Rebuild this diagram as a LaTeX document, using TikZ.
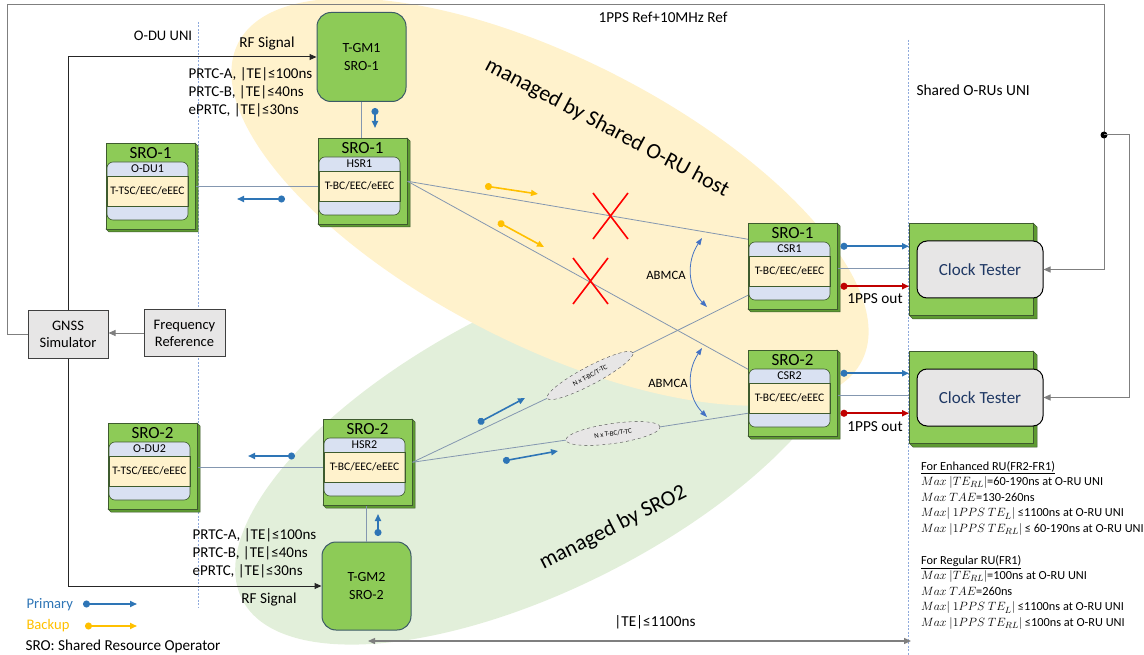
\documentclass[tikz,border=0pt]{standalone}
\usepackage{fontspec}
\setmainfont{Carlito}
\usepackage{xcolor}
\usepackage{tikz}
\usetikzlibrary{arrows.meta,shapes.geometric}

\definecolor{srogreen}{HTML}{8DCB57}
\definecolor{sroside}{HTML}{5E9A32}
\definecolor{sroline}{HTML}{3E5B2E}
\definecolor{gmline}{HTML}{3C5A66}
\definecolor{bandblue}{HTML}{D9E1F2}
\definecolor{bandyellow}{HTML}{FFF2CC}
\definecolor{yellowzone}{HTML}{FFF2CC}
\definecolor{greenzone}{HTML}{E2EFDA}
\definecolor{boxgray}{HTML}{E7E6E6}
\definecolor{primblue}{HTML}{2E75B6}
\definecolor{backorange}{HTML}{FFC000}
\definecolor{ppsred}{HTML}{C00000}
\definecolor{crossred}{HTML}{FF0000}
\definecolor{abmblue}{HTML}{4472C4}
\definecolor{linkgray}{HTML}{8497B0}
\definecolor{framegray}{HTML}{7F7F7F}
\definecolor{unidot}{HTML}{8FAADC}
\definecolor{testerblue}{HTML}{1F3864}

\newcommand{\fsz}[2]{\fontsize{#1}{#2}\selectfont}

% 3D box: name, top left x, top left y, title, band, role
\newcommand{\srobox}[6]{%
  \filldraw[fill=sroside, draw=sroline, line width=0.5pt] (#2+89,#3) -- (#2+92,#3+3) -- (#2+92,#3+89) -- (#2+3,#3+89) -- (#2,#3+86) -- cycle;
  \node[srofront, anchor=north west] (#1) at (#2,#3) {};
  \node[srotitle] (#1title) at (#2+44.5,#3+10) {#4};
  \fill[bandblue, rounded corners=6pt] (#2+1,#3+19) rectangle (#2+82,#3+77);
  \node[roleband] (#1role) at (#2+41.5,#3+48) {#6};
  \node[bandlabel] (#1band) at (#2+41.5,#3+26) {#5};
  \draw[draw=sroline, line width=0.6pt, rounded corners=6pt] (#2+1,#3+19) rectangle (#2+82,#3+77);
}

% clock tester: name, top left x, top left y
\newcommand{\testerbox}[3]{%
  \filldraw[fill=sroside, draw=sroline, line width=0.5pt] (#2+124,#3) -- (#2+128,#3+4) -- (#2+128,#3+96) -- (#2+4,#3+96) -- (#2,#3+92) -- cycle;
  \node[srofront, minimum width=124pt, minimum height=92pt, anchor=north west] (#1box) at (#2,#3) {};
  \node[tester] (#1) at (#2+71,#3+46.5) {Clock Tester};
}

\begin{document}
\begin{tikzpicture}[x=1pt, y=-1pt, font=\fsz{14.6}{17},
    srofront/.style={draw=sroline, line width=0.5pt, fill=srogreen, minimum width=89pt, minimum height=86pt, inner sep=0pt},
    srotitle/.style={font=\fsz{17}{20}, inner sep=0pt},
    bandlabel/.style={font=\fsz{12}{14}, inner sep=0pt},
    roleband/.style={draw=sroline, line width=0.6pt, fill=bandyellow, minimum width=81pt, minimum height=30pt, inner sep=0pt, font=\fsz{11.5}{14}},
    gmbox/.style={draw=gmline, line width=1pt, fill=srogreen, rounded corners=14pt, minimum width=89pt, minimum height=89pt, align=center, font=\fsz{14}{18}},
    graybox/.style={draw=black!75, line width=1pt, fill=boxgray, minimum width=80pt, minimum height=47pt, align=center, font=\fsz{14.5}{17}},
    tester/.style={draw=black, line width=1pt, fill=boxgray, rounded corners=10pt, minimum width=126pt, minimum height=57pt, font=\fsz{17}{20}, text=testerblue},
    tcell/.style={ellipse, draw=black!70, dashed, fill=boxgray, inner sep=0pt, font=\fsz{7}{8}},
    refline/.style={draw=framegray, line width=1pt},
    link/.style={draw=linkgray, line width=0.8pt},
    uni/.style={draw=unidot, line width=0.8pt, dash pattern=on 2pt off 1.5pt},
    primary/.style={draw=primblue, line width=1.6pt, {Circle[length=7pt]}-{Triangle[length=7pt,width=6pt]}},
    backup/.style={primary, draw=backorange},
    pps/.style={primary, draw=ppsred},
    nolink/.style={draw=crossred, line width=1.6pt},
    abm/.style={draw=abmblue, line width=0.8pt, {Triangle[length=7pt,width=5pt]}-{Triangle[length=7pt,width=5pt]}},
    toarrow/.style={-{Triangle[length=7pt,width=6pt]}}]

\useasboundingbox (0,0) rectangle (1144,655);

% managed zones
\fill[greenzone, rotate around={27:(545,445)}] (545,445) ellipse [x radius=340, y radius=142];
\fill[yellowzone, rotate around={-27:(550,202)}] (550,202) ellipse [x radius=350, y radius=143];
\node[rotate=-28, font=\fsz{22}{26}] (hostzone) at (607,128) {managed by Shared O-RU host};
\node[rotate=27, font=\fsz{22}{26}] (srozone) at (613,528) {managed by SRO2};

% UNI borders
\coordinate (duuniT) at (198,22);
\coordinate (duuniB) at (198,608);
\coordinate (ruuniT) at (908,40);
\coordinate (ruuniB) at (908,655);
\draw[uni] (duuniT) -- (duuniB);
\draw[uni] (ruuniT) -- (ruuniB);
\node (duuni) at (163,36) {O-DU UNI};
\node[anchor=west, font=\fsz{15.4}{18}] (ruuni) at (913,90) {Shared O-RUs UNI};

% sources
\node[graybox] (gnss) at (68,334.5) {GNSS\\Simulator};
\node[graybox, minimum width=81pt, minimum height=46pt] (freq) at (184.5,333) {Frequency\\Reference};
\node[gmbox] (tgm1) at (361.5,57) {T-GM1\\SRO-1};
\node[gmbox, minimum height=88pt] (tgm2) at (366.5,586) {T-GM2\\SRO-2};

% clocks
\srobox{odu1}{106}{143}{SRO-1}{O-DU1}{T-TSC/EEC/eEEC}
\srobox{hsr1}{318}{138}{SRO-1}{HSR1}{T-BC/EEC/eEEC}
\srobox{csr1}{748}{223}{SRO-1}{CSR1}{T-BC/EEC/eEEC}
\srobox{csr2}{748}{350}{SRO-2}{CSR2}{T-BC/EEC/eEEC}
\srobox{hsr2}{323}{419}{SRO-2}{HSR2}{T-BC/EEC/eEEC}
\srobox{odu2}{108}{423}{SRO-2}{O-DU2}{T-TSC/EEC/eEEC}
\testerbox{ct1}{909}{223}
\testerbox{ct2}{909}{351}

% reference and RF paths
\coordinate (frameNW) at (7,5);
\coordinate (frameNE) at (1104,5);
\coordinate (refsplit) at (1104,135);
\draw[refline, toarrow] (gnss.west) -| (frameNW) -- (frameNE) |- (ct1.east);
\fill[black] (refsplit) circle (3.5pt);
\draw[refline, toarrow] (refsplit) -- ++(25,0) |- (ct2.east);
\draw[refline, draw=black!85, toarrow] (gnss.north) |- (tgm1.west);
\draw[refline, draw=black!85, toarrow] (gnss.south) |- (tgm2.west);
\draw[refline, toarrow] (freq.west) -- (freq.west -| gnss.east);
\node[font=\fsz{15.2}{18}] (refsig) at (663,17) {1PPS Ref+10MHz Ref};
\node[font=\fsz{15.2}{18}] (rf1) at (267,44) {RF Signal};
\node[font=\fsz{15.2}{18}] (rf2) at (269,600) {RF Signal};
\node[anchor=north west, align=left, font=\fsz{15}{18}] (prtc1) at (185,64) {PRTC-A, |TE|≤100ns\\PRTC-B, |TE|≤40ns\\ePRTC, |TE|≤30ns};
\node[anchor=north west, align=left, font=\fsz{15}{18}] (prtc2) at (189,525) {PRTC-A, |TE|≤100ns\\PRTC-B, |TE|≤40ns\\ePRTC, |TE|≤30ns};

% links
\draw[link] (hsr1.west |- hsr1role) -- (odu1.east |- hsr1role);
\draw[link] (hsr2.west |- hsr2role) -- (odu2.east |- hsr2role);
\draw[link] (tgm1.south) -- (tgm1.south |- hsr1.north);
\draw[link] (tgm2.north) -- (tgm2.north |- hsr2.south);
\draw[link] (hsr1.east) -- ([yshift=27pt]csr1.west);
\draw[link] (hsr1.east) -- ([yshift=24pt]csr2.west);
\node[tcell, rotate=28, minimum width=97pt, minimum height=18pt] (nbc1) at (590,375.5) {N x T-BC/T-TC};
\node[tcell, rotate=8, minimum width=95pt, minimum height=20pt] (nbc2) at (613,433.5) {N x T-BC/T-TC};
\draw[link] (hsr2.east) -- (nbc1.west);
\draw[link] (nbc1.east) -- ([yshift=-29pt]csr1.west);
\draw[link] (hsr2.east) -- (nbc2.west);
\draw[link] (nbc2.east) -- ([yshift=-20pt]csr2.west);

% CSR to testers
\coordinate (blue1) at ([xshift=3pt,yshift=20pt]csr1.east);
\coordinate (gray1) at ([yshift=-2pt]csr1.east);
\coordinate (red1) at ([xshift=3pt,yshift=-20pt]csr1.east);
\coordinate (blue2) at ([xshift=3pt,yshift=20pt]csr2.east);
\coordinate (gray2) at ([yshift=-2pt]csr2.east);
\coordinate (red2) at ([xshift=3pt,yshift=-20pt]csr2.east);
\draw[primary] (blue1) -- (blue1 -| ct1box.west);
\draw[link] (gray1) -- (gray1 -| ct1box.west);
\draw[pps] (red1) -- (red1 -| ct1box.west);
\draw[primary] (blue2) -- (blue2 -| ct2box.west);
\draw[link] (gray2) -- (gray2 -| ct2box.west);
\draw[pps] (red2) -- (red2 -| ct2box.west);
\node[font=\fsz{15.3}{18}] (pps1) at (875,299) {1PPS out};
\node[font=\fsz{15.3}{18}] (pps2) at (875,427) {1PPS out};

% ABMCA
\coordinate (abm1a) at (702,238);
\coordinate (abm1b) at (707,307);
\coordinate (abm2a) at (702,348);
\coordinate (abm2b) at (707,417);
\draw[abm] (abm1a) .. controls (686,262) and (688,288) .. (abm1b);
\draw[abm] (abm2a) .. controls (686,372) and (688,398) .. (abm2b);
\node[font=\fsz{12.7}{15}] (abmca1) at (666,275) {ABMCA};
\node[font=\fsz{12.7}{15}] (abmca2) at (668,383) {ABMCA};

% broken paths
\draw[nolink] (593,193) -- (628,239) (628,193) -- (593,239);
\draw[nolink] (573,258) -- (608,304) (608,258) -- (573,304);

% direction marks
\draw[primary] (375,108) -- (375,128);
\draw[primary] (285,199) -- (237,199);
\draw[primary] (378,536) -- (378,514);
\draw[primary] (295,456) -- (248,456);
\draw[backup] (485,186) -- (538,194);
\draw[backup] (498,222) -- (544,247);
\draw[primary] (478,423) -- (525,398);
\draw[primary] (503,461) -- (558,451);

% legend
\node[anchor=west, text=primblue] (lgprim) at (23,605) {Primary};
\draw[primary] (83,604) -- (137,604);
\node[anchor=west, text=backorange] (lgback) at (23,626) {Backup};
\draw[backup] (85,626) -- (137,626);
\node[anchor=west, font=\fsz{15.2}{18}] (lgsro) at (22,646) {SRO: Shared Resource Operator};

% end to end budget
\coordinate (budgetL) at (368,641);
\coordinate (budgetR) at (911,641);
\draw[refline, line width=1.3pt, {Triangle[length=7pt,width=6pt]}-{Triangle[length=7pt,width=6pt]}] (budgetL) -- (budgetR);
\node[font=\fsz{15.2}{18}] (budget) at (655,622) {|TE|≤1100ns};

% limits
\node[anchor=north west, align=left, font=\fsz{12.3}{15.6}, inner sep=0pt] (enhru) at (921,461) {\underline{For Enhanced RU(FR2-FR1)}\\
  $Max\ |TE_{RL}|$=60-190ns at O-RU UNI\\
  $Max\ TAE$=130-260ns\\
  $Max|\ 1PPS\ TE_{L}|$ ≤1100ns at O-RU UNI\\
  $Max\ |1PPS\ TE_{RL}|$ ≤ 60-190ns at O-RU UNI};
\node[anchor=north west, align=left, font=\fsz{12.3}{15.6}, inner sep=0pt] (regru) at (921,555) {\underline{For Regular RU(FR1)}\\
  $Max\ |TE_{RL}|$=100ns at O-RU UNI\\
  $Max\ TAE$=260ns\\
  $Max|\ 1PPS\ TE_{L}|$ ≤1100ns at O-RU UNI\\
  $Max\ |1PPS\ TE_{RL}|$ ≤100ns at O-RU UNI};
\end{tikzpicture}
\end{document}
